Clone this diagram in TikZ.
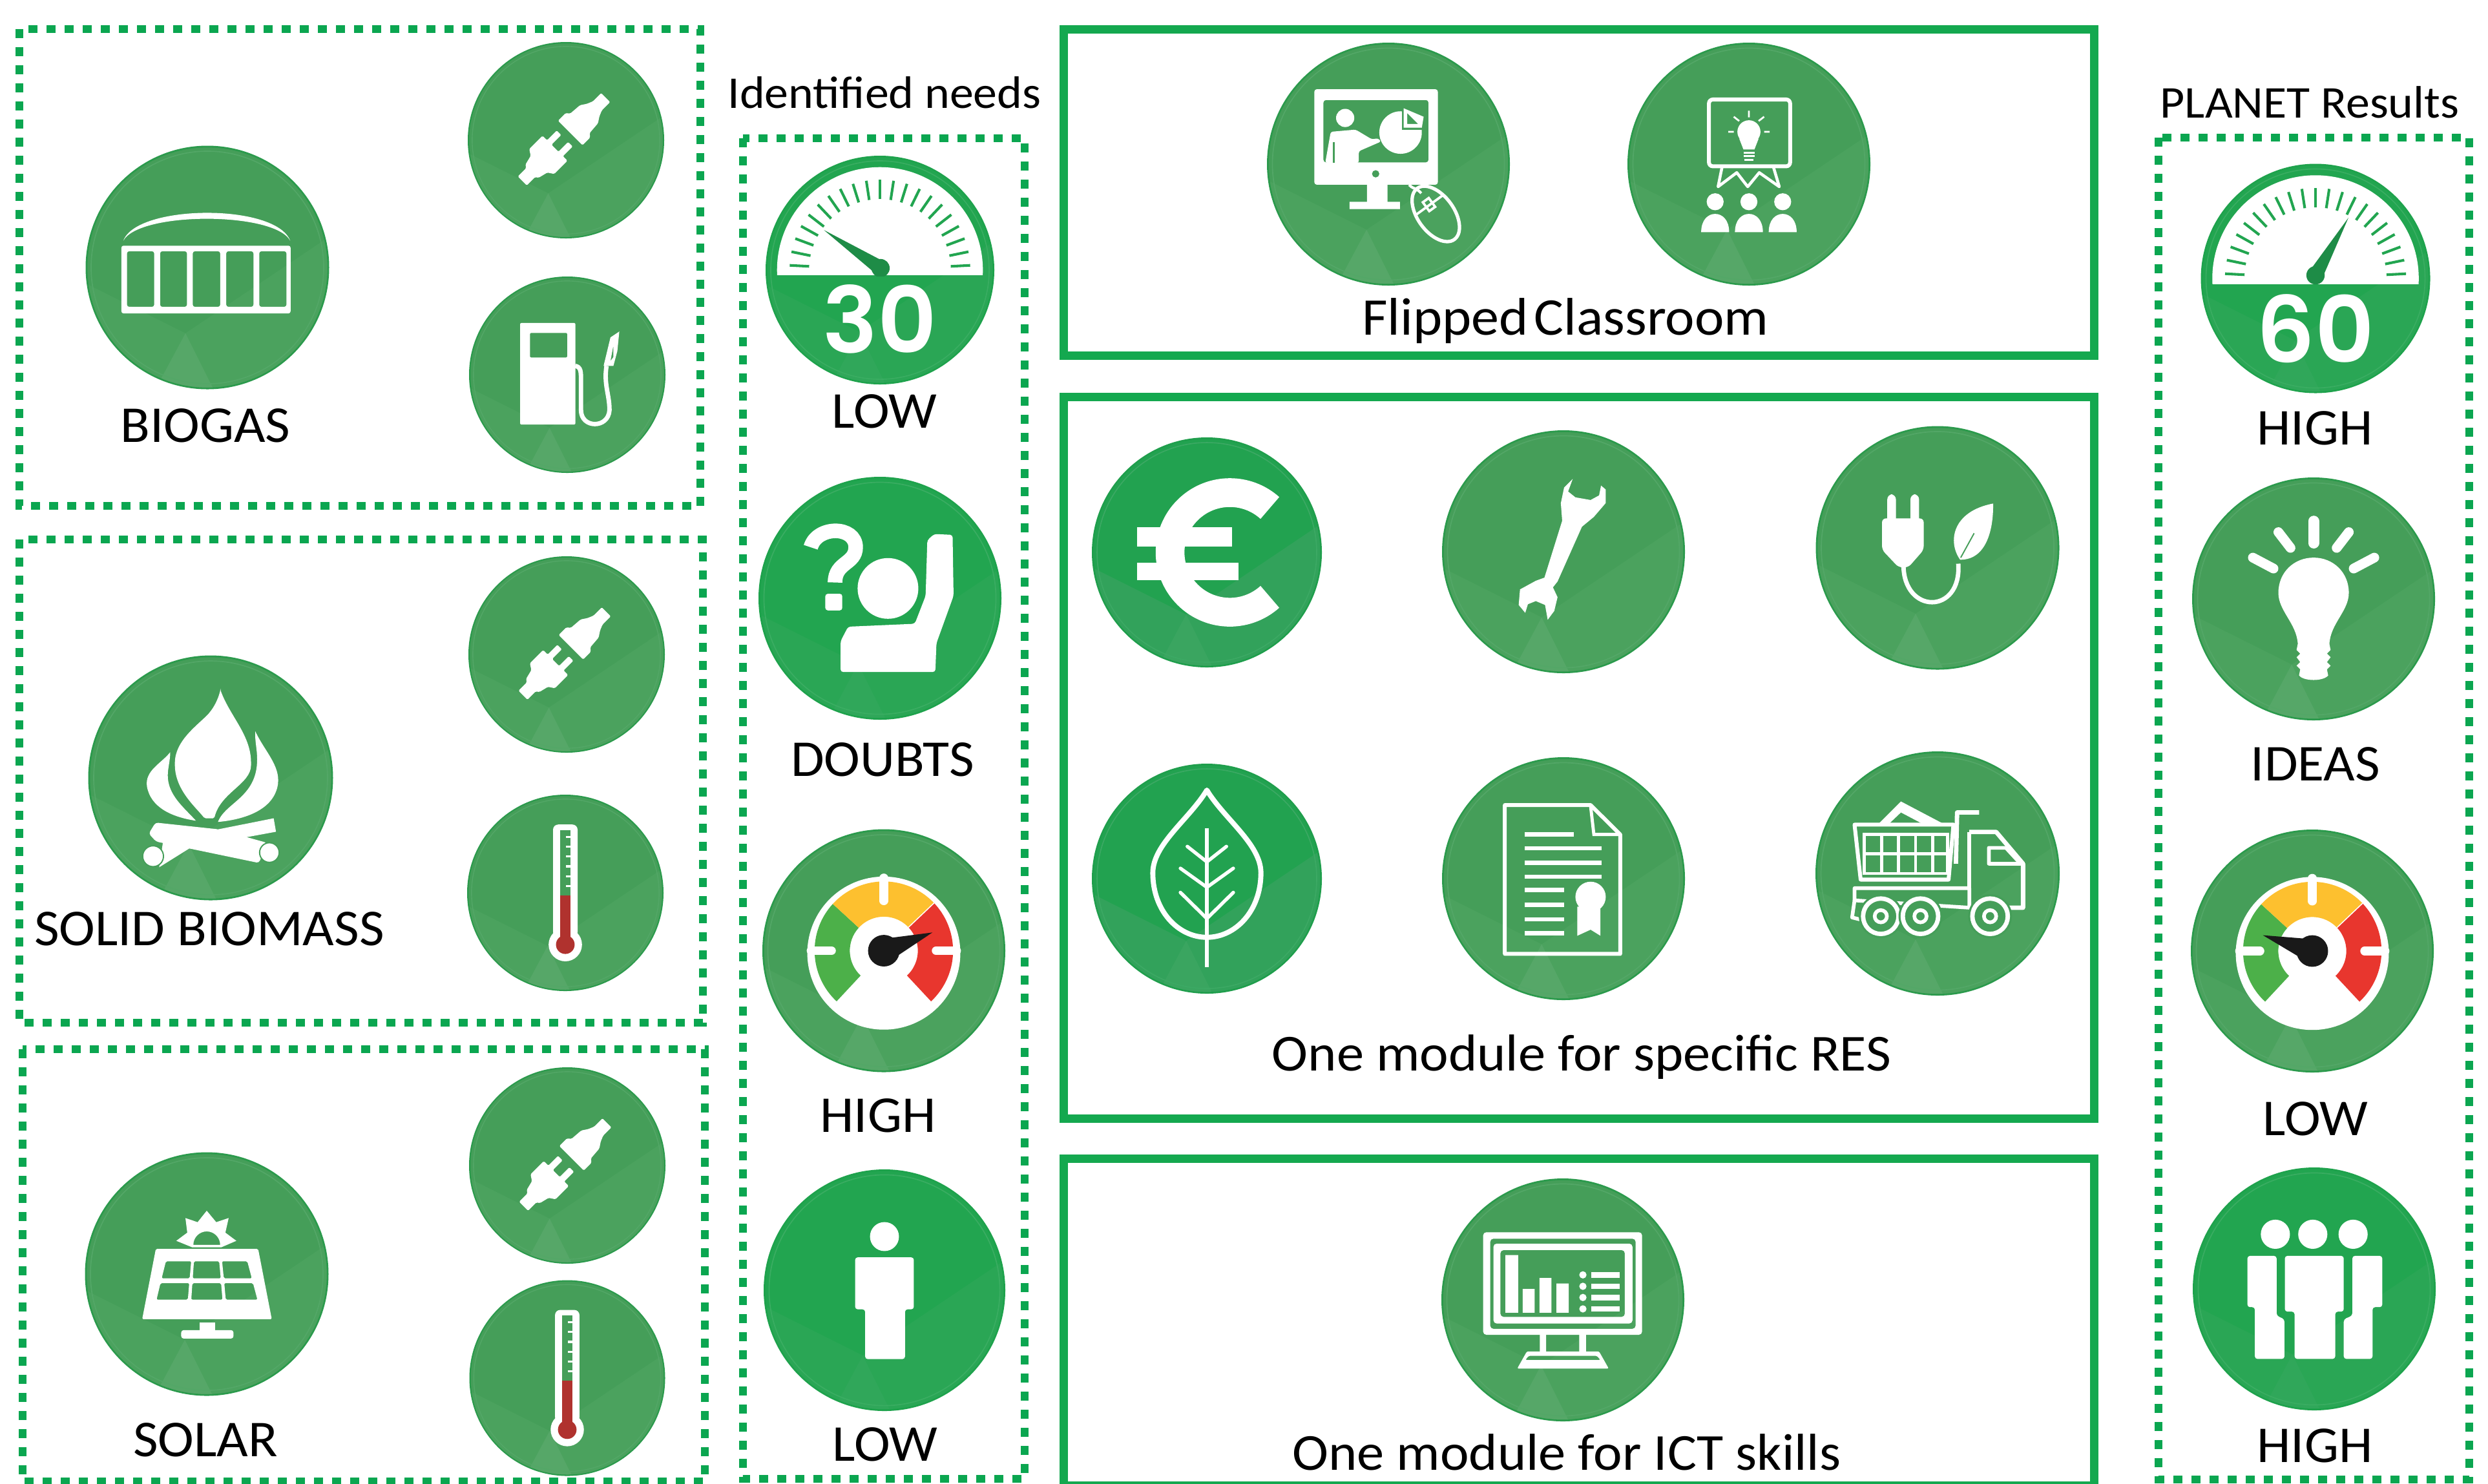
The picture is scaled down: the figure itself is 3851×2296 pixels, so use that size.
\documentclass[tikz,border=0pt]{standalone}
\usepackage{fontspec}
\setmainfont{Carlito}[FakeStretch=1.05]
\newfontfamily\digitfont{Poppins SemiBold}
\definecolor{dashgreen}{HTML}{0BA650}
\definecolor{boxgreen}{HTML}{14A84F}
\definecolor{gmain}{HTML}{459E59}
\definecolor{gface}{HTML}{4BA25E}
\definecolor{gwedge}{HTML}{56A768}
\definecolor{gedge}{HTML}{2B9A4C}
\definecolor{grim}{HTML}{53A767}
\definecolor{bmain}{HTML}{22A250}
\definecolor{bface}{HTML}{32A25B}
\definecolor{bwedge}{HTML}{3AA560}
\definecolor{bedge}{HTML}{1F9E4C}
\definecolor{brim}{HTML}{3CA964}
\definecolor{vmain}{HTML}{22A550}
\definecolor{vface}{HTML}{2AA655}
\definecolor{vwedge}{HTML}{30A75A}
\definecolor{vedge}{HTML}{1EA24C}
\definecolor{vrim}{HTML}{3AAD62}
\definecolor{needlegreen}{HTML}{1E8C47}
\definecolor{thermred}{HTML}{B0322E}
\definecolor{dialgreen}{HTML}{4CB049}
\definecolor{dialyellow}{HTML}{FDC02F}
\definecolor{dialred}{HTML}{E8362E}
\tikzset{
  dbox/.style={draw=dashgreen,line width=3pt,dash pattern=on 3.5pt off 3.5pt},
  sbox/.style={draw=boxgreen,line width=3.25pt},
  wl/.style={line width=#1*\rr*0.0025pt},
  lbl/.style={anchor=base,inner sep=0pt,text=black,font=\fontsize{20}{24}\selectfont},
  lblbig/.style={anchor=base,inner sep=0pt,text=black,font=\fontsize{20.1}{24}\selectfont},
  head/.style={anchor=base,inner sep=0pt,text=black,font=\fontsize{17.6}{22}\selectfont},
  num/.style={anchor=base,inner sep=0pt,text=white,font=\digitfont\fontsize{35.5}{36}\selectfont},
}
\newcommand\discbg[1]{%
  \fill[#1edge] (0,0) circle (100);
  \begin{scope}
    \clip (0,0) circle (98.5);
    \fill[#1main] (-110,-110) rectangle (110,110);
    \fill[#1face] (-18,54) -- (110,-32) -- (110,110) -- (-110,110) -- (-110,8) -- cycle;
    \fill[#1wedge] (-18,54) -- (-48,110) -- (10,110) -- cycle;
  \end{scope}
  \draw[#1rim,wl=.9] (0,0) circle (95.5);
}
\newcommand\icon[5]{\begin{scope}[shift={(#1,#2)},scale=#3/100]\def\rr{#3}\discbg{#4}#5\end{scope}}
\newcommand\icplug{%
  \begin{scope}[shift={(-2,-1)},rotate=45]
  \fill[white,rounded corners=.4pt] (9,-17.6) -- (9,17.6) -- (20,17.6) -- (23,14) -- (36,13) -- (42,9) -- (48,6.5) -- (60,6.5) -- (60,-6.5) -- (48,-6.5) -- (42,-9) -- (36,-13) -- (23,-14) -- (20,-17.6) -- cycle;
  \fill[white,rounded corners=.4pt] (-13,-18) -- (-13,-11.5) -- (1,-11.5) -- (1,-5) -- (-13,-5) -- (-13,5) -- (1,5) -- (1,11.5) -- (-13,11.5) -- (-13,18) -- (-32,18) -- (-36,12) -- (-46,9.5) -- (-48,6.5) -- (-60,6.5) -- (-60,-6.5) -- (-48,-6.5) -- (-46,-9.5) -- (-36,-12) -- (-32,-18) -- cycle;
  \end{scope}
}
\newcommand\icpump{%
  \fill[white,even odd rule,rounded corners=.5pt] (-48,-52.7) rectangle (8.3,50.7) (-38,-42.6) rectangle (0,-17.5);
  \draw[white,wl=4.5] (8,-9) .. controls (14,-8) and (14,-3) .. (14,6) -- (14,36) .. controls (14,55) and (42,55) .. (43,36) .. controls (43,20) and (37,10) .. (40,-9);
  \fill[white,even odd rule] (37,-9) -- (44,-38) -- (53,-44) -- (51,-24) -- (47,-9) -- cycle (44,-14) -- (47,-30) -- (47,-18) -- cycle;
}
\newcommand\icbiogas{%
  \fill[white,even odd rule,rounded corners=.8pt] (-70.6,-17.9) rectangle (68.3,37.7)
    (-66,-13.3) rectangle (-43.7,32.3) (-38.8,-13.3) rectangle (-16.8,32.3) (-12,-13.3) rectangle (10.5,32.3) (15.5,-13.3) rectangle (37.8,32.3) (42.6,-13.3) rectangle (64.9,32.3);
  \fill[white] (-69,-22) .. controls (-58,-52) and (56,-53) .. (68,-22) .. controls (55,-46) and (-56,-46) .. (-69,-22) -- cycle;
}
\newcommand\icfire{%
  \fill[white,rounded corners=.5pt] (8,-71.8) .. controls (16,-50) and (33,-35) .. (33,-11.4) .. controls (33,5) and (8,12) .. (3,33) -- (-5,33) .. controls (-12,24) and (-29,10) .. (-29.2,-11.4) .. controls (-29,-30) and (-12,-42) .. (-2,-52) .. controls (3,-58) and (6,-64) .. (8,-71.8) -- cycle;
  \fill[white] (36.5,-38) .. controls (44,-22) and (57,-10) .. (55,5) .. controls (52,26) and (28,34) .. (6,36) .. controls (12,20) and (38,16) .. (38,-15) .. controls (38,-24) and (36,-30) .. (36.5,-38) -- cycle;
  \fill[white] (-33,-21) .. controls (-40,-12) and (-54,-6) .. (-52,7) .. controls (-49,24) and (-32,32) .. (-12,35) .. controls (-22,24) and (-35,14) .. (-35,-2) .. controls (-35,-8) and (-33,-14) .. (-33,-21) -- cycle;
  \fill[white,rounded corners=1pt] (-45,36.5) -- (-50.5,45.5) -- (-44.6,52) -- (39.5,69.5) -- (46,53) -- (6.3,42) -- cycle;
  \fill[white] (51.5,33) -- (53.4,44) -- (10,52) -- (6.3,42) -- cycle;
  \fill[white] (-14,55.5) -- (-42,73) -- (-39,53) -- cycle;
  \fill[white,draw=gmain,wl=1] (48,61) circle (8);
  \fill[white,draw=gmain,wl=1] (-47,64) circle (8.5);
}
\newcommand\ictherm{%
  \fill[white,rounded corners=2pt] (-12.5,-69.6) rectangle (12.5,45);
  \fill[white] (0,52.7) circle (17);
  \fill[gmain] (-5.5,-64) rectangle (5.5,3);
  \fill[thermred] (-5.5,2.7) rectangle (5.5,50);
  \fill[thermred] (0,52.7) circle (9.5);
  \foreach \t in {-57,-47,-37,-27,-17,-7} \draw[white,wl=2] (.5,\t) -- (6,\t);
}
\newcommand\icsolar{%
  \fill[white,even odd rule] (-25,-27.3) -- (-16,-34) -- (-17.5,-46) -- (-7.5,-42.6) -- (0,-52) -- (7.8,-42.6) -- (18,-46) -- (15.3,-34) -- (24.3,-27.3) -- (12,-22) -- (-12,-22) -- cycle
     (11,-24) arc[start angle=0,end angle=-180,radius=11] -- cycle;
  \fill[white,even odd rule,rounded corners=.5pt] (-41.8,-20.7) -- (42.2,-20.7) -- (53.4,37) -- (-53,37) -- cycle
     (-33.5,-10.5) -- (-12.8,-10.5) -- (-14,3.5) -- (-37,3.5) -- cycle
     (-10.5,-10.5) -- (10.2,-10.5) -- (11.5,3.5) -- (-11.5,3.5) -- cycle
     (12.6,-10.5) -- (33.3,-10.5) -- (37,3.5) -- (14,3.5) -- cycle
     (-38,7.5) -- (-14.4,7.5) -- (-15.5,21) -- (-41.2,21) -- cycle
     (-11.8,7.5) -- (11.8,7.5) -- (12.9,21) -- (-12.7,21) -- cycle
     (14.4,7.5) -- (38,7.5) -- (41.6,21) -- (15.6,21) -- cycle;
  \fill[white] (-6,40) rectangle (7,48);
  \fill[white,rounded corners=1pt] (-21,46) rectangle (22,53);
}
\newcommand\icspeedo[5]{%
  \begin{scope}
    \clip (-105,-105) rectangle (105,#1);
    \fill[white] (0,0) circle (90);
    \foreach \a in {183,191.7,...,357.1} \draw[vmain,wl=2.3] (\a:62) -- (\a:79);
  \end{scope}
  \fill[needlegreen] #2 -- #3 -- #4 -- cycle;
  \begin{scope}
    \clip (-105,-105) rectangle (105,#1+1);
    \fill[needlegreen] #5 circle (8);
  \end{scope}
}
\newcommand\icdial[3]{%
  \fill[white] (0,2) circle (63);
  \fill[dialgreen] (133:57) arc[start angle=133,end angle=222.5,radius=57] -- (222.5:28) arc[start angle=222.5,end angle=133,radius=28] -- cycle;
  \fill[dialyellow] (222.5:57) arc[start angle=222.5,end angle=316.5,radius=57] -- (316.5:28) arc[start angle=316.5,end angle=222.5,radius=28] -- cycle;
  \fill[dialred] (316.5:57) arc[start angle=316.5,end angle=407,radius=57] -- (407:28) arc[start angle=407,end angle=316.5,radius=28] -- cycle;
  \draw[white,wl=.8] (316.5:28) -- (316.5:57);
  \draw[white,wl=7,line cap=round] (180:43) -- (180:60);
  \draw[white,wl=7,line cap=round] (0:43) -- (0:60);
  \draw[white,wl=7,line cap=round] (270:41) -- (270:60);
  \fill[black!90] #1 -- #2 -- #3 -- cycle;
  \fill[black!90] (0,0) circle (13);
}
\newcommand\icdoubts{%
  \fill[white] (6.6,-8.1) circle (25);
  \fill[white,rounded corners=1pt] (-32.4,35.3) -- (-26.2,23.4) -- (28.7,21) -- (37.6,-2) -- (39,-47.8) -- (44.7,-52.9) -- (59.8,-52.2) -- (60.6,-2) -- (46.5,37) -- (45.6,60.7) -- (-32.4,60.7) -- cycle;
  \draw[white,wl=12] (-57,-42) .. controls (-52,-60) and (-20,-60) .. (-20,-42) .. controls (-20,-28) and (-37,-30) .. (-37,-13);
  \fill[white,rounded corners=1pt] (-45,-3.7) rectangle (-31,10);
}
\newcommand\icperson{%
  \fill[white] (0,-44.4) circle (12);
  \fill[white,rounded corners=1pt] (-24.3,-27.2) -- (24.3,-27.2) -- (24.3,15.8) -- (17,15.8) -- (17,57) -- (-16,57) -- (-16,15.8) -- (-24.3,15.8) -- cycle;
}
\newcommand\icpeople{%
  \foreach \h in {-32,-1.2,32} \fill[white] (\h,-45) circle (12);
  \fill[white,rounded corners=1pt] (-24.2,-27.2) -- (24.3,-27.2) -- (24.3,18.7) -- (17.3,18.7) -- (17.3,57.6) -- (-16.2,57.6) -- (-16.2,18.7) -- (-24.2,18.7) -- cycle;
  \fill[white,rounded corners=1pt] (-55,-27.2) -- (-31,-27.2) -- (-31,22) -- (-24.5,25) -- (-24.5,57.6) -- (-48.9,57.6) -- (-48.9,15) -- (-55,15) -- cycle;
  \fill[white,rounded corners=1pt] (56,-27.2) -- (31.4,-27.2) -- (31.4,22) -- (24.3,25) -- (24.3,57.6) -- (48,57.6) -- (48,15) -- (56,15) -- cycle;
}
\newcommand\icbulb{%
  \draw[white,wl=9,line cap=round] (0,-64) -- (0,-46);
  \draw[white,wl=8,line cap=round] (-29,-55) -- (-19,-42);
  \draw[white,wl=8,line cap=round] (29,-55) -- (19,-42);
  \draw[white,wl=8,line cap=round] (-50,-34) -- (-33,-25);
  \draw[white,wl=8,line cap=round] (50,-34) -- (33,-25);
  \fill[white] (-29,-5) .. controls (-29,-22) and (-16,-34) .. (0,-34) .. controls (16,-34) and (29,-22) .. (29,-5) .. controls (29,10) and (14,20) .. (13,37)
    -- (14,42) -- (11,45) -- (14,48) -- (11,52) -- (14,55) -- (11,58) -- (12,63) .. controls (8,68) and (-8,68) .. (-12,63) -- (-11,58) -- (-14,55) -- (-11,52) -- (-14,48) -- (-11,45) -- (-14,42) -- (-13,37) .. controls (-14,20) and (-29,10) .. (-29,-5) -- cycle;
}
\newcommand\iceuro{%
  \draw[white,wl=25] (20,0) ++(48:52) arc[start angle=48,end angle=312,radius=52];
  \fill[white] (-60.8,-21.8) rectangle (22,-5);
  \fill[white] (-60.8,8.9) rectangle (27.5,24.2);
}
\newcommand\icwrench{%
  \fill[white] (7.6,-60) -- (3.8,-49.6) -- (9.8,-44.8) -- (22.3,-42.6) -- (29.3,-46.4) -- (30.9,-54.5) -- (34.7,-51.3) -- (34.7,-40) -- (25,-28.7) -- (15.2,-20.6) -- (-4.9,24.5) -- (-8.7,29.3) -- (-4.9,37.4) -- (-7.6,48.7) -- (-13,56) -- (-15.2,43.8) -- (-22.8,40.6) -- (-29.3,43.2) -- (-31.5,50.3) -- (-36.9,43.8) -- (-35.8,31) -- (-22.8,23.9) -- (-15.7,21.3) -- (-1.1,-25.5) -- (-2.2,-40) -- (.5,-52.9) -- cycle;
}
\newcommand\icplugleaf{%
  \fill[white,rounded corners=2pt] (-41.3,-44) rectangle (-34.2,-20);
  \fill[white,rounded corners=2pt] (-22.3,-44) rectangle (-15.2,-20);
  \fill[white,rounded corners=1.5pt] (-45.6,-24.2) -- (-11.4,-24.2) -- (-11.4,1.6) -- (-24,16) -- (-32,16) -- (-45.6,1.6) -- cycle;
  \draw[white,wl=3.6] (-28,14) .. controls (-28,55) and (20,55) .. (17,13);
  \fill[white] (18.5,9.7) .. controls (8,-5) and (12,-30) .. (45.6,-36.4) .. controls (46,-15) and (40,10) .. (18.5,9.7) -- cycle;
  \draw[gmain,wl=1] (19,8) -- (30,-12);
}
\newcommand\icleaf{%
  \draw[white,wl=4.4,line join=round] (0,-77) .. controls (-15,-52) and (-47,-30) .. (-47,-5) .. controls (-47,28) and (-25,51) .. (0,51) .. controls (25,51) and (47,28) .. (47,-5) .. controls (47,-30) and (15,-52) .. (0,-77) -- cycle;
  \draw[white,wl=3] (0,-44) -- (0,77);
  \draw[white,wl=3,line cap=round] (-17,-28) -- (0,-14.6) -- (17,-28) (-23,-9) -- (0,7.5) -- (23,-9) (-23,12) -- (0,34.7) -- (23,12);
}
\newcommand\icdoc{%
  \draw[white,wl=3.2,line join=round] (-48.3,-60.6) -- (22.3,-60.6) -- (46.7,-36.4) -- (46.7,61.9) -- (-48.3,61.9) -- cycle;
  \draw[white,wl=2.6] (22.3,-60) -- (25,-36.4) -- (46.7,-36.4);
  \draw[white,wl=3.6] (-32,-36.4) -- (8.7,-36.4) (-32,-25) -- (31.5,-25) (-32,-13) -- (31.5,-13) (-32,-1.6) -- (31.5,-1.6)
     (-32,9.3) -- (.5,9.3) (-32,21.6) -- (.5,21.6) (-32,33.5) -- (.5,33.5) (-32,45) -- (.5,45);
  \fill[white] (22.3,15) circle (12.5);
  \fill[white] (11.4,23) -- (11.4,47) -- (22.3,42) -- (30.4,47) -- (30.4,23) -- cycle;
}
\newcommand\ictruck{%
  \fill[white,even odd rule] (-50,-39) -- (-30,-59) -- (8,-39) -- cycle (-40,-40.5) -- (-30,-50) -- (-12,-40.5) -- cycle;
  \draw[white,wl=3.2,line join=round] (-68,-40) -- (13,-40) -- (9,5) -- (-63,5) -- cycle;
  \draw[white,wl=2.6] (-60,-32) rectangle (8,0) (-60,-16) -- (8,-16);
  \foreach \c in {-46,-32,-18,-4} \draw[white,wl=2.6] (\c,-32) -- (\c,0);
  \draw[white,wl=3.6,line join=round] (15,-8) -- (16,-50) -- (34,-50);
  \draw[white,wl=3.6,line join=round] (26,-34) -- (48,-34) -- (70,-8) -- (70,28) -- (58,28);
  \draw[white,wl=3,line join=round] (26,-34) -- (26,12);
  \draw[white,wl=3,line join=round] (42,-21) -- (56,-21) -- (68,-8) -- (42,-8) -- cycle;
  \draw[white,wl=3,line join=round] (-68,12) -- (26,12) -- (26,28) -- (-68,22) -- cycle;
  \draw[white,wl=3,line join=round] (-68,22) -- (-70,36) -- (-62,38);
  \foreach \w in {-46.5,-14,43} {
    \fill[gmain] (\w,35) circle (18);
    \draw[white,wl=3.6] (\w,35) circle (14.5);
    \draw[white,wl=3] (\w,35) circle (5);
  }
}
\newcommand\icclass{%
  \fill[white,even odd rule,rounded corners=1pt] (-61,-61.7) rectangle (40.7,17) (-53.5,-52.8) rectangle (33,-1.4);
  \fill[gmain] (-10.5,8) circle (3);
  \fill[white] (-17.6,17) -- (-.7,17) -- (-.7,31) -- (9.5,31) -- (9.5,37) -- (-32,37) -- (-32,31) -- (-17.6,31) -- cycle;
  \fill[white] (-35.6,-38) circle (7.5);
  \fill[white,rounded corners=.8pt] (-52,-1) -- (-47.5,-26.6) -- (-27,-28.4) -- (-13.6,-20.4) -- (-8.5,-21.3) -- (-6,-18.6) -- (-24.4,-10.6) -- (-24.4,-1) -- cycle;
  \draw[gmain,wl=1.2] (-45,-18) -- (-45,-1);
  \fill[white] (10,-26) circle (17.5);
  \fill[gmain] (11,-46) rectangle (31,-28);
  \fill[white,even odd rule] (12.5,-46) -- (29,-39) -- (27.5,-30) -- (12.5,-30) -- cycle (15.5,-42) -- (15.5,-33) -- (24.5,-33) -- cycle;
  \begin{scope}[shift={(39,41)},rotate=-54]
    \draw[white,wl=2.8] (0,0) ellipse [x radius=26,y radius=15];
    \draw[white,wl=2] (-9,-14) -- (-9,14);
    \draw[white,wl=2] (-14,-3) rectangle (-5,3);
  \end{scope}
  \draw[white,wl=2.2] (17,17) .. controls (19,20) and (24,20) .. (27,24);
}
\newcommand\icidea{%
  \draw[white,wl=3.2,rounded corners=1.5pt] (-32.9,-53.2) rectangle (33.9,1.8);
  \draw[white,wl=2.4,line join=round] (-22,1.8) -- (-25.4,18.6) -- (-10,7) -- (-1,18.6) -- (8.5,7) -- (25,18.6) -- (20,1.8);
  \fill[white] (0,-26.6) circle (9.5);
  \fill[white] (-8,-21) -- (8,-21) -- (4.5,-12) -- (-4.5,-12) -- cycle;
  \draw[white,wl=1.7] (-4.5,-9.5) -- (4.5,-9.5) (-4.5,-6.5) -- (4.5,-6.5) (-3.5,-3.5) -- (3.5,-3.5);
  \draw[white,wl=1.5] (0,-44) -- (0,-38.5) (-12.5,-39) -- (-8,-35.5) (12.5,-39) -- (8,-35.5) (-17,-26.6) -- (-12.5,-26.6) (17,-26.6) -- (12.5,-26.6);
  \foreach \h in {-27.8,0,27.8} {
    \fill[white] (\h,31) circle (7);
    \fill[white] (\h-11.5,56) .. controls (\h-11.5,46) and (\h-6,41) .. (\h,41) .. controls (\h+6,41) and (\h+11.5,46) .. (\h+11.5,56) -- cycle;
  }
}
\newcommand\icmonitor{%
  \fill[white,even odd rule,rounded corners=1.2pt] (-65.6,-55.7) rectangle (65.2,28.7) (-59.8,-50.4) rectangle (59.9,23.8) (-57.1,-46.3) rectangle (57.3,19.4) (-51.4,-41) rectangle (51,14);
  \fill[white] (-47.3,-36.9) rectangle (-36.8,10.5) (-33,-9) rectangle (-23.2,10.5) (-19.3,-18) rectangle (-9.4,10.5) (-5.3,-13.5) rectangle (4.8,10.5);
  \foreach \q in {-20.6,-11.2,-2,7.4} {
    \fill[white] (16.5,\q) circle (3);
    \fill[white] (23.6,\q-2.3) rectangle (47,\q+2.3);
  }
  \fill[white] (-19,28.7) rectangle (-13.8,43) (13.5,28.7) rectangle (19,43);
  \fill[white,even odd rule,rounded corners=.6pt] (-29.6,42.4) -- (29.8,42.4) -- (37.8,56.6) -- (-37.6,56.6) -- cycle (-28,46) -- (28,46) -- (31,49.5) -- (-31,49.5) -- cycle;
}
\begin{document}
\begin{tikzpicture}[x=0.25pt,y=-0.25pt]
\path[use as bounding box] (0,0) rectangle (3851,2296);
\fill[white] (0,0) rectangle (3851,2296);
% dashed frames
\draw[dbox] (30,45) rectangle (1084,783);
\draw[dbox] (30,835) rectangle (1088,1583);
\draw[dbox] (35,1624) rectangle (1091,2293);
\draw[dbox] (1150,214) rectangle (1586,2289);
\draw[dbox] (3341,213) rectangle (3822,2290);
% solid frames
\draw[sbox] (1646,45) rectangle (3241,550);
\draw[sbox] (1646,614) rectangle (3241,1731);
\draw[sbox] (1646,1793) rectangle (3241,2299);
% left column
\icon{321}{414}{188.5}{g}{\icbiogas}
\icon{876}{217}{152}{g}{\icplug}
\icon{878}{580}{152}{g}{\icpump}
\icon{326}{1204}{189.5}{g}{\icfire}
\icon{877}{1013}{152}{g}{\icplug}
\icon{875}{1382}{152}{g}{\ictherm}
\icon{320}{1972}{188.5}{g}{\icsolar}
\icon{878}{1804}{152}{g}{\icplug}
\icon{878}{2133}{151.5}{g}{\ictherm}
% identified needs
\icon{1362}{418}{177}{v}{\icspeedo{4.2}{(-49,-35)}{(-3.1,3.7)}{(4.1,-7.1)}{(.5,-1.7)}}
\icon{1362}{926}{188}{v}{\icdoubts}
\icon{1368}{1471.5}{188}{g}{\icdial{(40,-15)}{(3.5,9.4)}{(-3.5,-9.4)}}
\icon{1369}{1997}{187}{v}{\icperson}
% flipped classroom
\icon{2149}{254}{188}{g}{\icclass}
\icon{2707}{254}{188}{g}{\icidea}
% module RES
\icon{1868}{855}{178}{b}{\iceuro}
\icon{2420}{854}{188}{g}{\icwrench}
\icon{2999}{848}{188.5}{g}{\icplugleaf}
\icon{1868}{1360}{178}{b}{\icleaf}
\icon{2420}{1360}{188}{g}{\icdoc}
\icon{2999}{1352}{189}{g}{\ictruck}
% module ICT
\icon{2419}{2012}{188}{g}{\icmonitor}
% results
\icon{3584}{431}{177.5}{v}{\icspeedo{4.5}{(28.7,-53)}{(5.6,.4)}{(-5.6,-6)}{(0,-2.8)}}
\icon{3581}{927}{188}{g}{\icbulb}
\icon{3579}{1472}{188}{g}{\icdial{(-40.7,-13)}{(3,-9.5)}{(-3,9.5)}}
\icon{3582}{1995}{188}{v}{\icpeople}
% numbers
\node[num] (n30) at (1362,546) {30};
\node[num] (n60) at (3584,561) {60};
% labels
\node[lbl] (tbiogas) at (318,684) {BIOGAS};
\node[lbl] (tbiomass) at (324,1463) {SOLID BIOMASS};
\node[lbl] (tsolar) at (318,2254) {SOLAR};
\node[head] (tneeds) at (1369,167) {Identified needs};
\node[lbl] (tlow1) at (1369,662) {LOW};
\node[lbl] (tdoubts) at (1366,1201) {DOUBTS};
\node[lbl] (thigh1) at (1359,1752) {HIGH};
\node[lbl] (tlow2) at (1370,2261) {LOW};
\node[lbl,font=\fontsize{20.5}{24}\selectfont] (tflip) at (2423,518) {Flipped\hspace{.11em}Classroom};
\node[lblbig] (tres) at (2448,1657) {One module for specific RES};
\node[lblbig] (tict) at (2425,2275) {One module for ICT skills};
\node[head] (tplanet) at (3575,182) {PLANET Results};
\node[lbl] (thigh2) at (3583,688) {HIGH};
\node[lbl] (tideas) at (3584,1208) {IDEAS};
\node[lbl] (tlow3) at (3584,1757) {LOW};
\node[lbl] (thigh3) at (3583,2263) {HIGH};
\end{tikzpicture}
\end{document}
